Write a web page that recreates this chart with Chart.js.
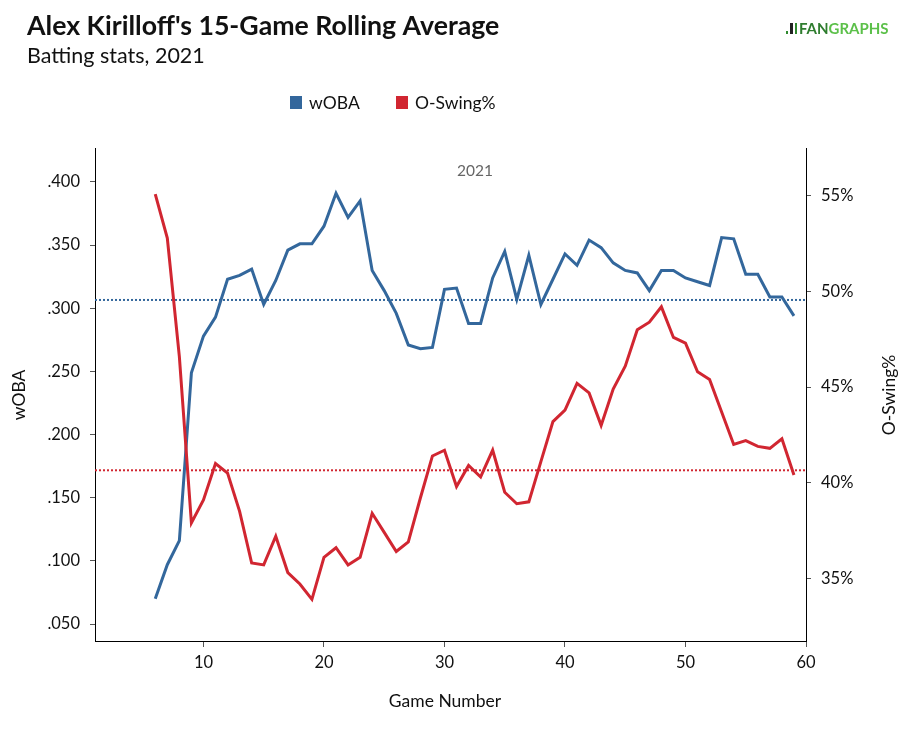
<!DOCTYPE html>
<html>
<head>
<meta charset="utf-8">
<script src="https://cdn.jsdelivr.net/npm/chart.js@4/dist/chart.umd.min.js"></script>
<style>
  html, body { margin: 0; padding: 0; background: #ffffff; }
  #wrap { width: 912px; height: 734px; position: relative; }
</style>
</head>
<body>
<div id="wrap"><canvas id="c" width="912" height="734"></canvas></div>
<script>
// ---- Data ----
const games = [6,7,8,9,10,11,12,13,14,15,16,17,18,19,20,21,22,23,24,25,26,27,28,29,30,31,32,33,34,35,36,37,38,39,40,41,42,43,44,45,46,47,48,49,50,51,52,53,54,55,56,57,58,59];
const wobaValues = [0.070,0.097,0.116,0.249,0.278,0.293,0.323,0.326,0.331,0.303,0.322,0.346,0.351,0.351,0.365,0.391,0.372,0.385,0.330,0.314,0.296,0.271,0.268,0.269,0.315,0.316,0.288,0.288,0.324,0.345,0.307,0.342,0.303,0.323,0.343,0.334,0.354,0.348,0.336,0.330,0.328,0.314,0.330,0.330,0.324,0.321,0.318,0.356,0.355,0.327,0.327,0.309,0.309,0.294];
const oswingValues = [55.1,52.8,46.6,37.9,39.1,41.0,40.5,38.5,35.8,35.7,37.2,35.3,34.7,33.9,36.1,36.6,35.7,36.1,38.4,37.4,36.4,36.9,39.2,41.4,41.7,39.8,40.9,40.3,41.7,39.5,38.9,39.0,41.1,43.2,43.8,45.2,44.7,43.0,44.9,46.1,48.0,48.4,49.2,47.6,47.3,45.8,45.4,43.7,42.0,42.2,41.9,41.8,42.3,40.4];
const wobaAverage = 0.3066;
const oswingAverage = 40.65;
const xTicks = [10,20,30,40,50,60];
const wobaTicks = [0.05,0.10,0.15,0.20,0.25,0.30,0.35,0.40];
const oswingTicks = [35,40,45,50,55];
const seriesNames = ['wOBA','O-Swing%'];
const titleText = "Alex Kirilloff's 15-Game Rolling Average";
const subtitleText = 'Batting stats, 2021';
const yearLabel = '2021';
const xTitle = 'Game Number';

// ---- Styles ----
const BLUE = '#33679c';
const RED = '#d12631';
const FONT = 'Lato, "Open Sans", sans-serif';

const wobaPoints = games.map((g,i) => ({x:g, y:wobaValues[i]}));
const oswingPoints = games.map((g,i) => ({x:g, y:oswingValues[i]}));
const xMin = 1, xMax = 60;

const decor = {
  id: 'decor',
  afterDraw(chart) {
    const ctx = chart.ctx;
    ctx.save();
    // Title
    ctx.fillStyle = '#111';
    ctx.textBaseline = 'alphabetic';
    ctx.textAlign = 'left';
    ctx.font = 'bold 26.7px ' + FONT;
    ctx.fillText(titleText, 27, 35);
    ctx.font = '21.5px ' + FONT;
    ctx.fillText(subtitleText, 27, 63);
    // Logo
    ctx.font = 'bold 15px ' + FONT;
    ctx.textBaseline = 'middle';
    ctx.fillStyle = '#2f8a2f';
    ctx.fillRect(786, 31, 2, 3);
    ctx.fillStyle = '#222';
    ctx.fillRect(790, 23, 3, 11);
    ctx.fillStyle = '#2f8a2f';
    ctx.fillRect(795, 23, 2, 11);
    ctx.fillStyle = '#2f7d2f';
    ctx.fillText('FAN', 799, 29);
    const fw = ctx.measureText('FAN').width;
    ctx.fillStyle = '#5cc04a';
    ctx.fillText('GRAPHS', 799 + fw, 29);
    // Legend
    ctx.font = '17.5px ' + FONT;
    ctx.textBaseline = 'middle';
    ctx.fillStyle = BLUE;
    ctx.fillRect(290, 96, 12, 13);
    ctx.fillStyle = '#111';
    ctx.fillText(seriesNames[0], 309, 103);
    ctx.fillStyle = RED;
    ctx.fillRect(396, 96, 12, 13);
    ctx.fillStyle = '#111';
    ctx.fillText(seriesNames[1], 415, 103);
    // Year label
    ctx.fillStyle = '#666';
    ctx.font = '15.5px ' + FONT;
    ctx.textAlign = 'center';
    ctx.fillText(yearLabel, 475, 171);
    // Axis titles
    ctx.fillStyle = '#111';
    ctx.font = '17.5px ' + FONT;
    ctx.fillText(xTitle, 445, 701);
    ctx.save();
    ctx.translate(19, 395);
    ctx.rotate(-Math.PI/2);
    ctx.fillText(seriesNames[0], 0, 0);
    ctx.restore();
    ctx.save();
    ctx.translate(889, 395);
    ctx.rotate(-Math.PI/2);
    ctx.fillText(seriesNames[1], 0, 0);
    ctx.restore();
    ctx.restore();
  }
};

const tickFont = { family: FONT, size: 16.5 };

new Chart(document.getElementById('c'), {
  type: 'line',
  data: {
    datasets: [
      { label: seriesNames[0], data: wobaPoints, yAxisID: 'y', borderColor: BLUE, backgroundColor: BLUE, borderWidth: 3, pointRadius: 0, tension: 0, order: 2 },
      { label: seriesNames[1], data: oswingPoints, yAxisID: 'y2', borderColor: RED, backgroundColor: RED, borderWidth: 3, pointRadius: 0, tension: 0, order: 1 },
      { label: 'wOBA avg', data: [{x:xMin,y:wobaAverage},{x:xMax,y:wobaAverage}], yAxisID: 'y', borderColor: BLUE, borderWidth: 2, borderDash: [2,2], pointRadius: 0, order: 4 },
      { label: 'O-Swing avg', data: [{x:xMin,y:oswingAverage},{x:xMax,y:oswingAverage}], yAxisID: 'y2', borderColor: RED, borderWidth: 2, borderDash: [2,2], pointRadius: 0, order: 3 }
    ]
  },
  options: {
    responsive: false,
    animation: false,
    layout: { padding: { top: 148, left: 0, right: 0, bottom: 0 } },
    plugins: { legend: { display: false }, tooltip: { enabled: false }, title: { display: false } },
    scales: {
      x: {
        type: 'linear', min: xMin, max: xMax,
        afterBuildTicks: s => { s.ticks = xTicks.map(v => ({value: v})); },
        afterFit: s => { s.height = 93; },
        grid: { display: true, drawOnChartArea: false, drawTicks: true, tickLength: 6, color: '#555' },
        border: { display: true, color: '#000', width: 1 },
        ticks: { font: tickFont, color: '#111', padding: 6, maxRotation: 0 }
      },
      y: {
        type: 'linear', position: 'left', min: 0.0366, max: 0.4269,
        afterBuildTicks: s => { s.ticks = wobaTicks.map(v => ({value: v})); },
        afterFit: s => { s.width = 95; },
        grid: { display: true, drawOnChartArea: false, drawTicks: true, tickLength: 5, color: '#555' },
        border: { display: true, color: '#000', width: 1 },
        ticks: { font: tickFont, color: '#111', padding: 10, callback: v => v.toFixed(3).replace(/^0/, '') }
      },
      y2: {
        type: 'linear', position: 'right', min: 31.72, max: 57.51,
        afterBuildTicks: s => { s.ticks = oswingTicks.map(v => ({value: v})); },
        afterFit: s => { s.width = 106; },
        grid: { display: true, drawOnChartArea: false, drawTicks: true, tickLength: 5, color: '#555' },
        border: { display: true, color: '#000', width: 1 },
        ticks: { font: tickFont, color: '#111', padding: 10, callback: v => v + '%' }
      }
    }
  },
  plugins: [decor]
});
</script>
</body>
</html>
